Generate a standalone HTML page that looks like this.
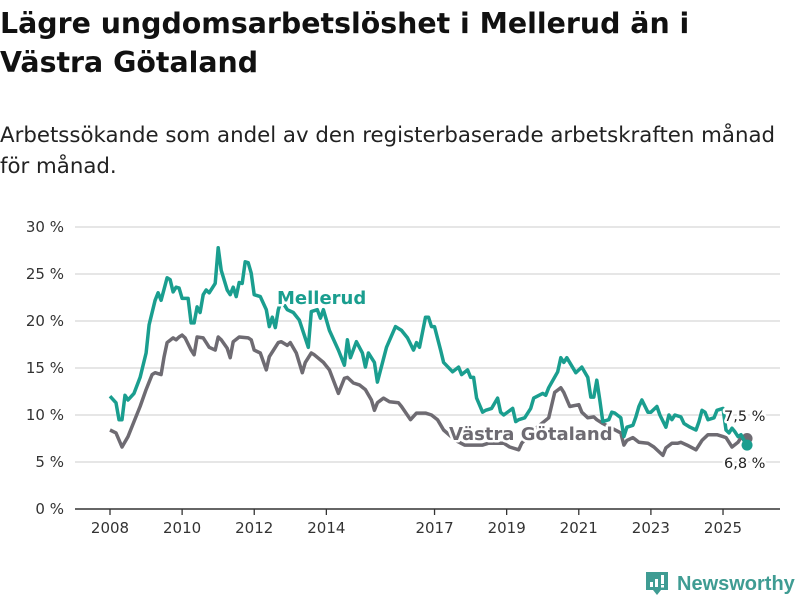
<!DOCTYPE html>
<html><head><meta charset="utf-8"><style>
body{margin:0;background:#fff;width:800px;height:600px;overflow:hidden;font-family:"Liberation Sans","DejaVu Sans",sans-serif;}
</style></head><body>
<svg width="800" height="600" xmlns="http://www.w3.org/2000/svg" style="font-family:'DejaVu Sans','Liberation Sans',sans-serif">
<text x="0" y="33" font-size="28.4" font-weight="bold" fill="#111"><tspan x="0">Lägre ungdomsarbetslöshet i Mellerud än i</tspan><tspan x="0" dy="39">Västra Götaland</tspan></text>
<text x="0" y="142" font-size="21.3" fill="#222"><tspan x="0">Arbetssökande som andel av den registerbaserade arbetskraften månad</tspan><tspan x="0" dy="31">för månad.</tspan></text>
<g id="grid"></g><g id="xax"></g><g id="lines"></g><g id="labels"></g>
<g>
<path d="M646 572 h22 v18 h-7 l-4 5 l-4 -5 h-7 z" fill="#3f9c93"/>
<rect x="650" y="582" width="3" height="5" fill="#fff"/><rect x="655" y="579" width="3" height="8" fill="#fff"/><rect x="661" y="575" width="3" height="9" fill="#fff"/><rect x="661" y="585" width="3" height="2.5" fill="#fff"/>
<text x="677" y="590" font-size="20" font-weight="bold" fill="#3f9c93" style="font-family:'Liberation Sans',sans-serif">Newsworthy</text>
</g>
</svg>
<script>
const mMonths=[0,2,3,4,5,6,8,10,12,13,15,16,17,19,20,21,22,23,24,26,27,28,29,30,31,32,33,35,36,37,39,40,41,42,43,44,45,46,47,48,50,52,53,54,55,56,57,59,61,63,66,67,69,70,71,73,76,78,79,80,82,84,85,86,88,89,92,95,97,99,101,102,103,105,106,107,108,110,111,114,116,117,119,120,121,122,124,125,127,129,130,131,134,135,136,138,140,141,144,145,146,149,150,151,152,155,157,159,160,161,162,163,164,166,167,168,170,171,172,174,175,176,177,179,180,182,183,185,186,187,188,190,191,193,195,196,197,198,199,201,202,204,205,206,207,208,209,210,211,212];
const mValues=[12.0,11.3,9.5,9.5,12.1,11.6,12.3,14.0,16.6,19.6,22.2,23.0,22.2,24.6,24.4,23.1,23.6,23.5,22.4,22.4,19.8,19.8,21.5,20.9,22.8,23.3,23.0,24.0,27.8,25.4,23.3,22.8,23.6,22.6,24.1,24.0,26.3,26.2,25.1,22.8,22.6,21.2,19.4,20.4,19.3,21.2,22.2,21.2,20.9,20.1,17.2,21.0,21.2,20.3,21.2,19.0,16.9,15.3,18.0,16.1,17.8,16.6,15.1,16.6,15.6,13.5,17.2,19.4,19.0,18.2,16.9,17.7,17.2,20.4,20.4,19.4,19.4,16.9,15.6,14.6,15.1,14.3,14.8,14.0,14.0,11.8,10.3,10.5,10.7,11.8,10.3,10.0,10.7,9.3,9.5,9.7,10.7,11.8,12.3,12.1,12.9,14.6,16.1,15.6,16.1,14.5,15.1,14.0,11.9,11.9,13.7,11.6,9.3,9.5,10.3,10.2,9.7,7.7,8.7,8.9,9.8,10.9,11.6,10.3,10.3,10.9,10.0,8.7,10.0,9.5,10.0,9.8,9.1,8.7,8.4,9.3,10.5,10.3,9.5,9.7,10.5,10.7,8.4,8.1,8.6,8.2,7.7,7.9,7.3,6.8];
const vMonths=[0,2,4,6,8,10,12,14,15,17,18,19,21,22,23,24,25,27,28,29,31,32,33,35,36,37,39,40,41,43,46,47,48,50,52,53,54,56,57,59,60,62,64,65,67,68,71,73,76,78,79,81,83,85,87,88,89,91,93,96,97,100,102,105,107,109,111,115,118,124,126,131,133,136,137,141,146,148,150,151,153,156,157,159,161,162,164,167,170,171,172,174,176,179,181,184,185,187,189,190,192,195,197,199,202,204,205,207,209,210,212];
const vValues=[8.4,8.1,6.6,7.7,9.3,10.9,12.7,14.3,14.5,14.3,16.2,17.7,18.2,18.0,18.3,18.5,18.2,16.9,16.4,18.3,18.2,17.7,17.2,16.9,18.3,18.0,17.1,16.1,17.8,18.3,18.2,18.0,16.9,16.6,14.8,16.2,16.7,17.7,17.8,17.4,17.7,16.6,14.5,15.6,16.6,16.4,15.6,14.8,12.3,13.9,14.0,13.4,13.2,12.7,11.6,10.5,11.3,11.8,11.4,11.3,10.9,9.5,10.2,10.2,10.0,9.5,8.4,7.3,6.8,6.8,7.0,7.0,6.6,6.3,7.0,8.4,9.7,12.4,12.9,12.4,10.9,11.1,10.3,9.7,9.8,9.5,9.1,8.6,8.1,6.8,7.3,7.6,7.1,7.0,6.6,5.7,6.5,7.0,7.0,7.1,6.8,6.3,7.3,7.9,7.9,7.7,7.6,6.6,7.1,7.6,7.5];
const yTicks=[0,5,10,15,20,25,30];
const yTickLabels=["0 %","5 %","10 %","15 %","20 %","25 %","30 %"];
const xTickYears=[2008,2010,2012,2014,2017,2019,2021,2023,2025];

const NS="http://www.w3.org/2000/svg";
const X=m=>110+m*3.005;
const Y=v=>509-v*9.4;
const XY=y=>X((y-2008)*12);
function mk(tag,attrs,parent){const e=document.createElementNS(NS,tag);for(const k in attrs)e.setAttribute(k,attrs[k]);parent.appendChild(e);return e;}
const grid=document.getElementById('grid'),xax=document.getElementById('xax'),lines=document.getElementById('lines'),labels=document.getElementById('labels');
yTicks.forEach((t,i)=>{
  const l=mk('line',{x1:75,x2:780,y1:Y(t),y2:Y(t),stroke:t===0?'#333':'#ddd','stroke-width':1.5},grid);
  
  
  const tx=mk('text',{x:64,y:Y(t)+5,'text-anchor':'end','font-size':15,fill:'#333'},grid);
  tx.textContent=yTickLabels[i];
  
  
});
xTickYears.forEach(yr=>{
  const l=mk('line',{x1:XY(yr),x2:XY(yr),y1:509,y2:515,stroke:'#333','stroke-width':1.3},xax);
  
  
  const t=mk('text',{x:XY(yr),y:533,'text-anchor':'middle','font-size':15,fill:'#333'},xax);
  t.textContent=yr;
  
  
});
function series(ms,vs,color,name){
  const d=ms.map((m,i)=>(i?'L':'M')+X(m).toFixed(1)+' '+Y(vs[i]).toFixed(1)).join(' ');
  const p=mk('path',{d:d,fill:'none',stroke:color,'stroke-width':3.5,'stroke-linejoin':'round'},lines);
  
  
  const n=ms.length-1;
  const c=mk('circle',{cx:X(ms[n]),cy:Y(vs[n]),r:5.5,fill:color},lines);
  
  
}
series(vMonths,vValues,'#6e6b72','vastra-gotaland');
series(mMonths,mValues,'#1a9e8f','mellerud');
function lab(x,y,txt,color,size,bold,name){
  const t=mk('text',{x:x,y:y,'font-size':size,'font-weight':bold?'bold':'normal',fill:color,stroke:'#fff','stroke-width':5,'paint-order':'stroke','stroke-linejoin':'round'},labels);
  t.textContent=txt;
  
  
}
lab(277,304,'Mellerud','#1a9e8f',18,true,'mellerud-label');
lab(449,440,'Västra Götaland','#6e6b72',18,true,'vastra-gotaland-label');
lab(724,421,'7,5 %','#222',14.5,false,'vastra-gotaland-end-value');
lab(724,468,'6,8 %','#222',14.5,false,'mellerud-end-value');
</script>
</body></html>
